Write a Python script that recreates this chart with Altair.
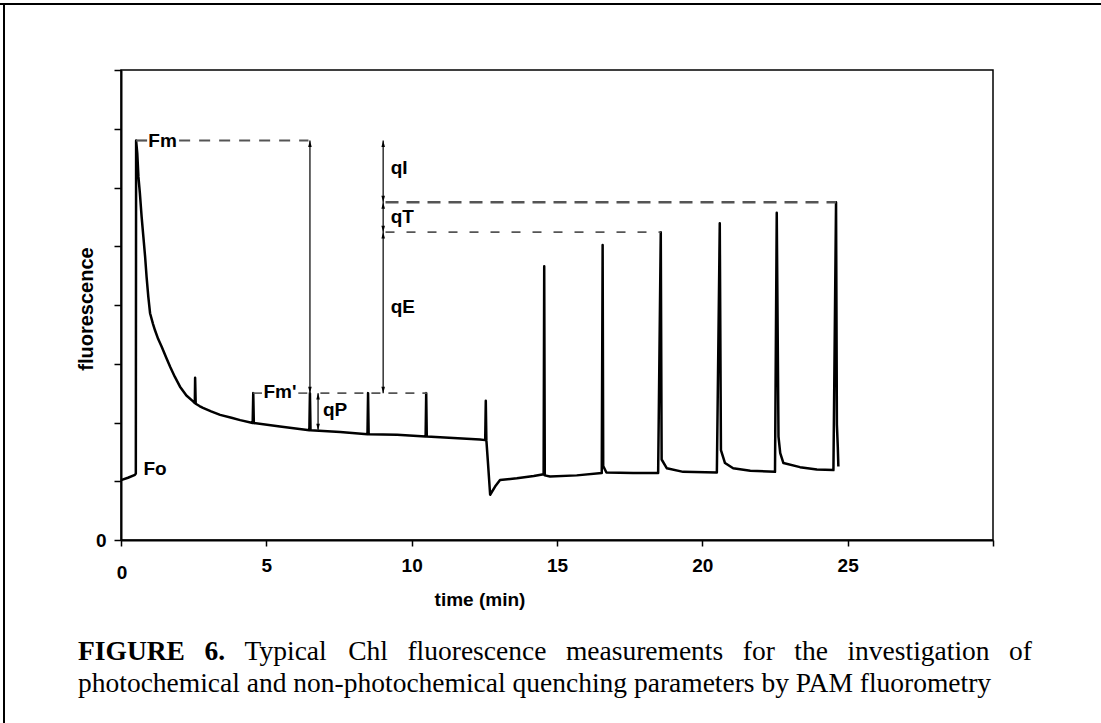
import altair as alt
import pandas as pd

# ---------------- data ----------------
TIME = [0.00, 0.24, 0.48, 0.51, 0.52, 0.56, 0.60, 0.65, 0.71, 0.77, 0.83, 0.88, 0.94, 1.00,
        1.10, 1.17, 1.28, 1.40, 1.55, 1.69, 1.85, 2.03, 2.25, 2.48, 2.54, 2.55, 2.57, 2.70,
        2.82, 3.10, 3.41, 3.80, 4.10, 4.53, 4.55, 4.57, 5.47, 6.48,
        6.50, 6.52, 7.54, 8.48, 8.50, 8.52, 9.50, 10.48, 10.50, 10.52, 12.35, 12.53, 12.55,
        12.57, 12.62, 12.70, 12.87, 13.04, 13.62, 14.20, 14.54, 14.56, 14.58, 14.76, 15.68,
        16.54, 16.57, 16.59, 16.70, 17.62, 18.48, 18.57, 18.60, 18.78, 19.34, 20.50, 20.60,
        20.64, 20.78, 21.06, 21.65, 22.50, 22.56, 22.62, 22.68, 22.79, 23.36, 23.94, 24.51,
        24.60, 24.63, 24.66, 24.68]
FLUOR = [1.02, 1.06, 1.11, 1.13, 6.80, 6.58, 6.18, 5.90, 5.50, 5.16, 4.82, 4.48, 4.14, 3.86,
         3.68, 3.57, 3.42, 3.29, 3.11, 2.95, 2.78, 2.61, 2.46, 2.36, 2.33, 2.76, 2.32, 2.28,
         2.25, 2.19, 2.13, 2.08, 2.04, 1.99, 2.50, 1.99, 1.93, 1.87,
         2.50, 1.87, 1.84, 1.80, 2.50, 1.80, 1.79, 1.76, 2.50, 1.76, 1.71, 1.70, 2.37,
         1.70, 1.35, 0.77, 0.91, 1.02, 1.05, 1.09, 1.12, 4.66, 1.10, 1.08, 1.10,
         1.14, 5.02, 1.26, 1.15, 1.14, 1.14, 5.24, 1.37, 1.22, 1.16, 1.15, 5.39,
         1.53, 1.31, 1.22, 1.18, 1.16, 5.57, 1.76, 1.48, 1.31, 1.24, 1.20, 1.19,
         5.75, 1.96, 1.59, 1.25]

FM = 6.80
FM_PRIME = 2.50
QT_UPPER = 5.75
QT_LOWER = 5.24
QP_BASE = 1.87

X_TICKS = [0, 5, 10, 15, 20, 25, 30]
Y_TICKS = [0, 1, 2, 3, 4, 5, 6, 7, 8]

# dashed reference levels: start, end, level
FM_DASH_T1 = [0.52, 2.00]
FM_DASH_T2 = [0.90, 6.45]
FMP_DASH_T1 = [4.55, 6.10, 6.86]
FMP_DASH_T2 = [4.85, 6.42, 10.52]
QT_DASH_T1 = [9.10, 9.10]
QT_DASH_T2 = [24.60, 18.57]
QT_DASH_V = [QT_UPPER, QT_LOWER]

# double-headed arrows: x, from, to
ARROW_T = [6.50, 6.78, 9.02]
ARROW_V1 = [FM_PRIME, QP_BASE, FM_PRIME]
ARROW_V2 = [FM, FM_PRIME, FM]

HEAD_UP_T = [6.50, 6.78, 9.02, 9.02, 9.02]
HEAD_UP_V = [FM, FM_PRIME, FM, QT_UPPER, QT_LOWER]
HEAD_DN_T = [6.50, 6.78, 9.02, 9.02, 9.02]
HEAD_DN_V = [FM_PRIME, QP_BASE, QT_UPPER, QT_LOWER, FM_PRIME]

LABELS = ["Fm", "Fm'", "qP", "qI", "qT", "qE", "Fo"]
LABEL_T = [0.94, 4.90, 6.95, 9.28, 9.28, 9.28, 0.77]
LABEL_V = [6.80, 2.52, 2.21, 6.34, 5.50, 3.97, 1.21]

CAPTION_1 = ["FIGURE", "6.", "Typical", "Chl", "fluorescence", "measurements", "for",
             "the", "investigation", "of"]
CAPTION_1_BOLD = [True, True, False, False, False, False, False, False, False, False]
CAPTION_2 = "photochemical and non-photochemical quenching parameters by PAM fluorometry"

# ---------------- layout ----------------
L, T = 121, 70            # plot origin in page pixels
W, H = 872, 470
CAP_LEFT, CAP_RIGHT = 78, 1032
CAP_SIZE = 27.5
CAP_Y1, CAP_Y2 = 652, 684

# Times / Liberation Serif advance widths (per em) used to justify caption line 1
REG_W = {"a": .444, "b": .5, "c": .444, "d": .5, "e": .444, "f": .333, "g": .5, "h": .5,
         "i": .278, "l": .278, "m": .778, "n": .5, "o": .5, "p": .5, "r": .333, "s": .389,
         "t": .278, "u": .5, "v": .5, "y": .5, "C": .667, "T": .611, ".": .25}
BOLD_W = {"F": .611, "I": .389, "G": .778, "U": .722, "R": .722, "E": .667, "6": .5, ".": .25}

SANS = "Liberation Sans"
SERIF = "Liberation Serif"

xs = alt.Scale(domain=[0, 30], nice=False, zero=False)
ys = alt.Scale(domain=[0, 8], nice=False, zero=False)
xaxis = alt.Axis(values=X_TICKS, title=None, grid=False,
                 labelExpr="datum.value == 0 || datum.value == 30 ? '' : datum.label",
                 domainColor="black", domainWidth=2, tickColor="black", tickWidth=1.5,
                 tickSize=6, labelFont=SANS, labelFontWeight="bold", labelFontSize=19,
                 labelColor="black", labelPadding=10)
yaxis = alt.Axis(values=Y_TICKS, title=None, grid=False,
                 labelExpr="datum.value == 0 ? '0' : ''",
                 domainColor="black", domainWidth=2, tickColor="black", tickWidth=1.5,
                 tickSize=7, labelFont=SANS, labelFontWeight="bold", labelFontSize=19,
                 labelColor="black", labelPadding=8)


def X(f):
    return alt.X(f, type="quantitative", scale=xs, axis=xaxis)


def Y(f):
    return alt.Y(f, type="quantitative", scale=ys, axis=yaxis)


trace_df = pd.DataFrame({"t": TIME, "v": FLUOR, "i": list(range(len(TIME)))})
trace = alt.Chart(trace_df).mark_line(color="black", strokeWidth=2.5, strokeJoin="round").encode(
    x=X("t"), y=Y("v"), order=alt.Order("i:Q"))

fm_dash = alt.Chart(pd.DataFrame({"t": FM_DASH_T1, "t2": FM_DASH_T2, "v": [FM, FM]})).mark_rule(
    color="#555", strokeWidth=2.2, strokeDash=[11, 9]).encode(x=X("t"), x2="t2", y=Y("v"))
fmp_dash = alt.Chart(pd.DataFrame({"t": FMP_DASH_T1, "t2": FMP_DASH_T2,
                                   "v": [FM_PRIME] * 3})).mark_rule(
    color="#555", strokeWidth=1.6, strokeDash=[9, 8]).encode(x=X("t"), x2="t2", y=Y("v"))
qt_up = alt.Chart(pd.DataFrame({"t": QT_DASH_T1[:1], "t2": QT_DASH_T2[:1], "v": QT_DASH_V[:1]})).mark_rule(
    color="#555", strokeWidth=2.6, strokeDash=[13, 8]).encode(x=X("t"), x2="t2", y=Y("v"))
qt_lo = alt.Chart(pd.DataFrame({"t": QT_DASH_T1[1:], "t2": QT_DASH_T2[1:], "v": QT_DASH_V[1:]})).mark_rule(
    color="#555", strokeWidth=1.8, strokeDash=[9, 12]).encode(x=X("t"), x2="t2", y=Y("v"))

arrows = alt.Chart(pd.DataFrame({"t": ARROW_T, "v": ARROW_V1, "v2": ARROW_V2})).mark_rule(
    color="#333", strokeWidth=1.5).encode(x=X("t"), y=Y("v"), y2="v2")

UP = "M-0.55,1L0,-1L0.55,1Z"
DN = "M-0.55,-1L0,1L0.55,-1Z"
heads_up = alt.Chart(pd.DataFrame({"t": HEAD_UP_T, "v": HEAD_UP_V})).mark_point(
    shape=UP, filled=True, color="black", opacity=1, size=42, yOffset=3.2).encode(x=X("t"), y=Y("v"))
heads_dn = alt.Chart(pd.DataFrame({"t": HEAD_DN_T, "v": HEAD_DN_V})).mark_point(
    shape=DN, filled=True, color="black", opacity=1, size=42, yOffset=-3.2).encode(x=X("t"), y=Y("v"))

labels = alt.Chart(pd.DataFrame({"t": LABEL_T, "v": LABEL_V, "txt": LABELS})).mark_text(
    align="left", baseline="middle", font=SANS, fontWeight="bold", fontSize=19,
    color="black").encode(x=X("t"), y=Y("v"), text="txt:N")

one = pd.DataFrame({"a": [0]})


def ptext(txt, px, py, size=19, font=SANS, weight="bold", align="center", angle=0):
    return alt.Chart(one).mark_text(
        align=align, baseline="middle", font=font, fontWeight=weight, fontSize=size,
        color="black", angle=angle).encode(
        x=alt.value(px - L), y=alt.value(py - T), text=alt.value(txt))


extra = [
    ptext("0", 122, 573),
    ptext("time (min)", 480, 600),
    ptext("fluorescence", 87, 309, size=20, angle=270),
]

# justified first caption line
widths = []
for word, bold in zip(CAPTION_1, CAPTION_1_BOLD):
    table = BOLD_W if bold else REG_W
    widths.append(sum(table.get(ch, .5) for ch in word) * CAP_SIZE)
gap = (CAP_RIGHT - CAP_LEFT - sum(widths)) / (len(widths) - 1)
xpos = CAP_LEFT
for word, bold, w in zip(CAPTION_1, CAPTION_1_BOLD, widths):
    extra.append(ptext(word, xpos, CAP_Y1, size=CAP_SIZE, font=SERIF,
                       weight="bold" if bold else "normal", align="left"))
    xpos += w + gap
extra.append(ptext(CAPTION_2, CAP_LEFT, CAP_Y2, size=CAP_SIZE, font=SERIF,
                   weight="normal", align="left"))

border_top = alt.Chart(one).mark_rule(color="black", strokeWidth=2).encode(
    x=alt.value(-L), x2=alt.value(1101 - L), y=alt.value(4 - T))
border_left = alt.Chart(one).mark_rule(color="black", strokeWidth=2).encode(
    x=alt.value(4 - L), y=alt.value(3 - T), y2=alt.value(723 - T))

chart = alt.layer(
    trace, fm_dash, fmp_dash, qt_up, qt_lo, arrows, heads_up, heads_dn, labels,
    *extra, border_top, border_left
).properties(
    width=W, height=H,
    autosize=alt.AutoSizeParams(type="none"),
    padding={"left": L, "top": T, "right": 1101 - L - W, "bottom": 723 - T - H},
    background="white",
).configure_view(stroke="black", strokeWidth=1.5)

chart.save("out.html", embed_options={"renderer": "svg", "actions": False})
